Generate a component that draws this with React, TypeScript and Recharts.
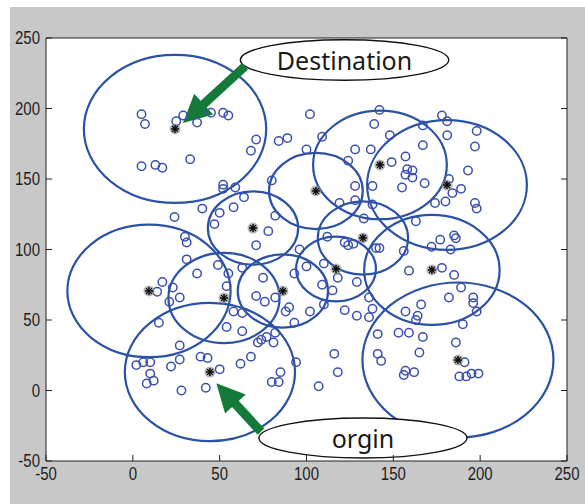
import { ScatterChart, Scatter, XAxis, YAxis, ReferenceArea, ReferenceLine } from 'recharts';

const axisTicks = [-50, 0, 50, 100, 150, 200, 250];

// cluster heads (black stars) and the radius of the circle round each one
const headX = [24.3, 105.4, 142.3, 180.9, 69.2, 132.5, 117, 172.2, 9.3, 52.5, 86.4, 44.4, 187.2];
const headY = [185.5, 141.5, 160, 145.7, 115.2, 108.2, 86.2, 85.5, 70.6, 65.6, 70.6, 13.1, 21.6];
const headR = [52.5, 27, 38.5, 46, 26, 26, 23, 39, 47, 32, 26, 49, 55];

// sensor nodes (open circles)
const nodeX = [
  5, 7, 25, 29, 37, 45, 52, 55, 71, 68, 84, 89, 102, 100, 109, 33, 5, 13, 17,
  142, 139, 148, 128, 137, 157, 167, 167, 178, 181, 181, 198, 197, 149, 124, 158, 161, 157, 161,
  155, 168, 138, 128, 193, 189, 184, 180, 182, 174, 197, 119, 128, 138, 198,
  52, 52, 59, 64, 40, 58, 50, 47, 24, 78, 71, 80, 82, 31, 30, 31, 37, 49, 55, 63, 54,
  17, 23, 14, 27, 21, 75, 71, 76, 82, 58, 63, 90, 88, 102, 93,
  96, 100, 93, 109, 115, 110, 118, 110, 112, 122, 124, 127, 129, 122, 129, 136, 140, 142, 133, 138, 136,
  163, 177, 172, 185, 186, 183, 156, 159, 178, 185, 189, 166, 182, 196, 196, 198, 157, 164, 163, 190,
  2, 6, 10, 10, 8, 12, 22, 27, 27, 39, 43, 50, 42, 28, 62, 68, 85, 80, 84, 94, 72, 74, 77, 81, 82, 107,
  15, 54, 63, 116, 118,
  141, 153, 159, 167, 141, 143, 165, 157, 156, 162, 186, 191, 188, 192, 195, 199,
];
const nodeY = [
  196, 189, 191, 195, 190, 197, 197, 195, 178, 170, 177, 179, 196, 171, 180, 164, 159, 160, 158,
  199, 189, 181, 171, 171, 166, 174, 188, 195, 191, 181, 184, 173, 162, 163, 157, 156, 153, 151,
  144, 147, 145, 145, 156, 143, 140, 134, 150, 133, 133, 133, 135, 132, 129,
  146, 143, 144, 137, 129, 130, 126, 118, 123, 113, 103, 149, 124, 105, 109, 93, 83, 89, 83, 87, 74,
  77, 73, 70, 66, 63, 80, 67, 63, 66, 56, 55, 59, 56, 56, 48,
  100, 88, 83, 75, 71, 61, 80, 90, 109, 105, 103, 104, 77, 57, 53, 66, 101, 101, 122, 58, 52,
  120, 107, 102, 110, 108, 100, 99, 85, 87, 82, 73, 61, 66, 66, 62, 56, 56, 53, 50, 47,
  18, 20, 20, 12, 5, 7, 17, 22, 32, 24, 23, 15, 2, 0, 19, 24, 13, 6, 6, 20, 34, 36, 38, 34, 41, 3,
  48, 45, 42, 26, 13,
  40, 41, 41, 38, 26, 21, 27, 14, 11, 13, 34, 20, 10, 10, 12, 12,
];

// text callouts and the arrows that point from them
const calloutText = ['Destination', 'orgin'];
const calloutX = [121.9, 132.5];
const calloutY = [234.4, -33.7];
const calloutRx = [60, 59.9];
const calloutRy = [14.4, 14.2];
const arrowFromX = [64.6, 73.8];
const arrowFromY = [230, -29.2];
const arrowToX = [28.9, 48.1];
const arrowToY = [189.7, 5.1];

const nodes = nodeX.map((x, i) => ({ x, y: nodeY[i] }));
const heads = headX.map((x, i) => ({ x, y: headY[i] }));

const BLUE = '#2c52a6';
const GREEN = '#137a3a';
const tickFont = { fontFamily: '"Liberation Sans", Arial, sans-serif', fontSize: 15, fill: '#1d1d1d' };

const NodeDot = (p: any) => (
  <circle cx={p.cx} cy={p.cy} r={4.2} fill="none" stroke="#3a4fb0" strokeWidth={1.5} />
);

const HeadStar = (p: any) => {
  const { cx, cy } = p;
  const d = 4;
  const e = 2.9;
  return (
    <g>
      <circle cx={cx} cy={cy} r={5.5} fill="#8a8a8a" fillOpacity={0.65} />
      <line x1={cx - d} y1={cy} x2={cx + d} y2={cy} stroke="#000" strokeWidth={1.4} />
      <line x1={cx} y1={cy - d} x2={cx} y2={cy + d} stroke="#000" strokeWidth={1.4} />
      <line x1={cx - e} y1={cy - e} x2={cx + e} y2={cy + e} stroke="#000" strokeWidth={1.2} />
      <line x1={cx - e} y1={cy + e} x2={cx + e} y2={cy - e} stroke="#000" strokeWidth={1.2} />
    </g>
  );
};

const ClusterRing = (p: any) => (
  <ellipse
    cx={p.x + p.width / 2}
    cy={p.y + p.height / 2}
    rx={Math.abs(p.width) / 2}
    ry={Math.abs(p.height) / 2}
    fill="none"
    stroke={BLUE}
    strokeWidth={2.2}
  />
);

const makeCallout = (label: string) => (p: any) => {
  const cx = p.x + p.width / 2;
  const cy = p.y + p.height / 2;
  return (
    <g>
      <ellipse cx={cx} cy={cy} rx={Math.abs(p.width) / 2} ry={Math.abs(p.height) / 2} fill="#fff" stroke="#111" strokeWidth={1.4} />
      <text x={cx} y={cy} textAnchor="middle" dominantBaseline="central" fontFamily='"Noto Sans", sans-serif' fontSize={25} fill="#1a1a1a">
        {label}
      </text>
    </g>
  );
};

const Arrow = (p: any) => {
  const { x1, y1, x2, y2 } = p;
  const dx = x2 - x1;
  const dy = y2 - y1;
  const len = Math.hypot(dx, dy) || 1;
  const ux = dx / len;
  const uy = dy / len;
  const hl = 28;
  const hw = 14;
  const bx = x2 - ux * hl;
  const by = y2 - uy * hl;
  const nx = -uy;
  const ny = ux;
  return (
    <g>
      <line x1={x1} y1={y1} x2={bx + ux * 2} y2={by + uy * 2} stroke={GREEN} strokeWidth={9} />
      <polygon points={`${x2},${y2} ${bx + nx * hw},${by + ny * hw} ${bx - nx * hw},${by - ny * hw}`} fill={GREEN} />
    </g>
  );
};

const LeftTick = (p: any) => (
  <g>
    <line x1={p.x} y1={p.y} x2={p.x + 6} y2={p.y} stroke="#222" />
    <g transform={`translate(${p.x - 6},${p.y}) scale(1,1.18)`}>
      <text textAnchor="end" dominantBaseline="central" {...tickFont}>{p.payload.value}</text>
    </g>
  </g>
);

const BottomTick = (p: any) => (
  <g>
    <line x1={p.x} y1={p.y} x2={p.x} y2={p.y - 6} stroke="#222" />
    <g transform={`translate(${p.x},${p.y + 13}) scale(1,1.18)`}>
      <text textAnchor="middle" dominantBaseline="central" {...tickFont}>{p.payload.value}</text>
    </g>
  </g>
);

const TopTick = (p: any) => <line x1={p.x} y1={p.y} x2={p.x} y2={p.y + 6} stroke="#222" />;
const RightTick = (p: any) => <line x1={p.x} y1={p.y} x2={p.x - 6} y2={p.y} stroke="#222" />;

export default function App() {
  return (
    <div style={{ position: 'fixed', left: 0, top: 0, width: 585, height: 504, background: '#fff' }}>
      <div style={{ position: 'absolute', left: 10, top: 7, right: 0, bottom: 0, background: '#c8c8c8' }} />
      <div style={{ position: 'absolute', left: 46, top: 38, width: 521, height: 423, background: '#fff' }} />
      <div style={{ position: 'absolute', left: 0, top: 0 }}>
        <ScatterChart width={585} height={504} margin={{ top: 37, right: 17, bottom: 13, left: 6 }}>
          <XAxis
            type="number"
            dataKey="x"
            domain={[-50, 250]}
            ticks={axisTicks}
            interval={0}
            allowDataOverflow
            height={30}
            tickSize={0}
            tickMargin={0}
            tickLine={false}
            axisLine={{ stroke: '#222' }}
            tick={BottomTick}
          />
          <XAxis
            xAxisId="top"
            orientation="top"
            type="number"
            domain={[-50, 250]}
            ticks={axisTicks}
            interval={0}
            allowDataOverflow
            height={1}
            tickSize={0}
            tickMargin={0}
            tickLine={false}
            axisLine={{ stroke: '#222' }}
            tick={TopTick}
          />
          <YAxis
            type="number"
            dataKey="y"
            domain={[-50, 250]}
            ticks={axisTicks}
            interval={0}
            allowDataOverflow
            width={40}
            tickSize={0}
            tickMargin={0}
            tickLine={false}
            axisLine={{ stroke: '#222' }}
            tick={LeftTick}
          />
          <YAxis
            yAxisId="right"
            orientation="right"
            type="number"
            domain={[-50, 250]}
            ticks={axisTicks}
            interval={0}
            allowDataOverflow
            width={1}
            tickSize={0}
            tickMargin={0}
            tickLine={false}
            axisLine={{ stroke: '#222' }}
            tick={RightTick}
          />
          {headX.map((x, i) => (
            <ReferenceArea
              key={`ring-${i}`}
              x1={x - headR[i]}
              x2={x + headR[i]}
              y1={headY[i] - headR[i]}
              y2={headY[i] + headR[i]}
              ifOverflow="visible"
              shape={ClusterRing}
            />
          ))}
          <Scatter data={nodes} shape={NodeDot} isAnimationActive={false} />
          <Scatter data={heads} shape={HeadStar} isAnimationActive={false} />
          {calloutText.map((t, i) => (
            <ReferenceArea
              key={`callout-${i}`}
              x1={calloutX[i] - calloutRx[i]}
              x2={calloutX[i] + calloutRx[i]}
              y1={calloutY[i] - calloutRy[i]}
              y2={calloutY[i] + calloutRy[i]}
              ifOverflow="visible"
              shape={makeCallout(t)}
            />
          ))}
          {arrowFromX.map((x, i) => (
            <ReferenceLine
              key={`arrow-${i}`}
              segment={[
                { x, y: arrowFromY[i] },
                { x: arrowToX[i], y: arrowToY[i] },
              ]}
              ifOverflow="visible"
              shape={Arrow}
            />
          ))}
        </ScatterChart>
      </div>
    </div>
  );
}
